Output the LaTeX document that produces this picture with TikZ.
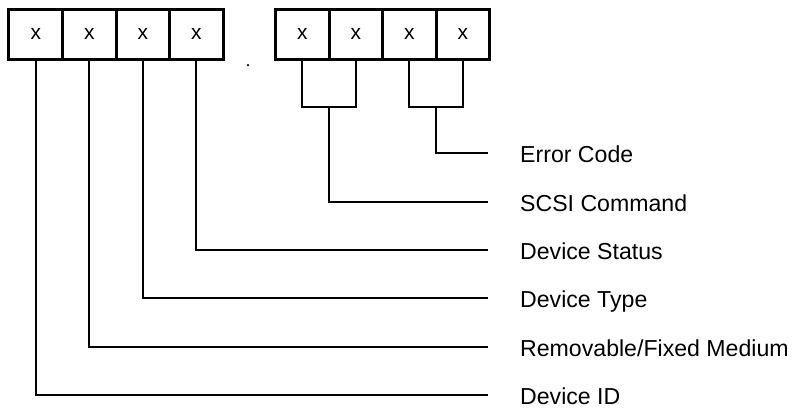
\documentclass[tikz,border=0pt]{standalone}
\usepackage{fontspec}
\setmainfont{Liberation Sans}
\begin{document}
\begin{tikzpicture}[x=1bp,y=-1bp,
  cell/.style={draw,line width=3bp,minimum width=53.5bp,minimum height=50bp,inner sep=0pt,anchor=center,font=\fontsize{21}{24}\selectfont},
  lab/.style={anchor=west,inner xsep=32bp,inner ysep=0pt,text height=18bp,text depth=0bp,font=\fontsize{23.2}{26}\selectfont},
  conn/.style={line width=1.8bp}]
\useasboundingbox (0,0) rectangle (793,408);
% left group
\node[cell] (a1) at (35.75,34) {x};
\node[cell] (a2) at (89.25,34) {x};
\node[cell] (a3) at (142.75,34) {x};
\node[cell] (a4) at (196.25,34) {x};
% right group
\node[cell] (b1) at (302.25,34) {x};
\node[cell] (b2) at (355.75,34) {x};
\node[cell] (b3) at (409.25,34) {x};
\node[cell] (b4) at (462.75,34) {x};
% dot
\node[circle,fill,inner sep=0pt,minimum size=2.5bp] (dot) at (248,65) {};
% labels
\node[lab] (l1) at (488,153) {Error Code};
\node[lab] (l2) at (488,202) {SCSI Command};
\node[lab] (l3) at (488,250) {Device Status};
\node[lab] (l4) at (488,298) {Device Type};
\node[lab] (l5) at (488,347) {Removable/Fixed Medium};
\node[lab] (l6) at (488,395) {Device ID};
% junctions
\coordinate (j1) at (329,107);
\coordinate (j2) at (436,107);
% connectors
\draw[conn] (a1.south) |- (l6.west);
\draw[conn] (a2.south) |- (l5.west);
\draw[conn] (a3.south) |- (l4.west);
\draw[conn] (a4.south) |- (l3.west);
\draw[conn] (b1.south) |- (j1) -| (b2.south);
\draw[conn] (j1) |- (l2.west);
\draw[conn] (b3.south) |- (j2) -| (b4.south);
\draw[conn] (j2) |- (l1.west);
\end{tikzpicture}
\end{document}
